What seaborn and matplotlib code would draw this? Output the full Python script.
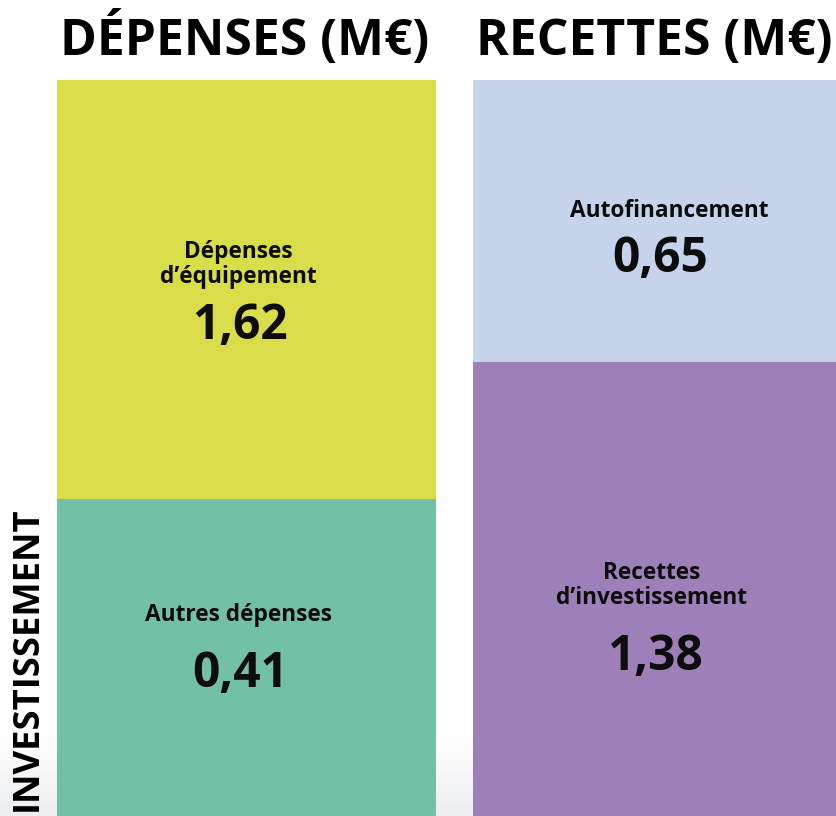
"""Budget d'investissement : dépenses vs recettes (M€), blocs empilés."""

import matplotlib
matplotlib.use("Agg")
import matplotlib.pyplot as plt
from matplotlib.colors import LinearSegmentedColormap
import numpy as np
import pandas as pd
import seaborn as sns

# données
colonnes = ["DÉPENSES (M€)", "RECETTES (M€)"]
postes_haut = ["Dépenses\nd’équipement", "Autofinancement"]
postes_bas = ["Autres dépenses", "Recettes\nd’investissement"]
valeurs_haut = [1.62, 0.65]
valeurs_bas = [0.41, 1.38]
# hauteur visible des blocs (le visuel n'est pas proportionnel aux montants)
hauteur_haut = [419, 282]
hauteur_bas = [317, 454]

couleurs_haut = ["#DADD4A", "#C5D4EA"]
couleurs_bas = ["#72C0A6", "#9E80B8"]

W, H = 837, 816
sns.set_theme(style="white")
plt.rcParams["font.family"] = ["Open Sans", "DejaVu Sans"]

fig = plt.figure(figsize=(W / 100, H / 100), dpi=100)
ax = fig.add_axes([0, 0, 1, 1])

df = pd.DataFrame({
    "col": colonnes,
    "total": np.add(hauteur_haut, hauteur_bas),
    "bas": hauteur_bas,
})

# léger dégradé gris en bas (blanc en haut -> gris en bas)
grad = np.linspace(0, 1, 100).reshape(-1, 1)
cmap_g = LinearSegmentedColormap.from_list("g", ["#FFFFFF", "#EDEEF1"])
ax.imshow(grad, extent=(-0.6, 1.45, 0, 80), aspect="auto", cmap=cmap_g, zorder=0)

sns.barplot(data=df, x="col", y="total", hue="col", palette=couleurs_haut,
            saturation=1, width=0.911, linewidth=0, legend=False, ax=ax, zorder=2)
sns.barplot(data=df, x="col", y="bas", hue="col", palette=couleurs_bas,
            saturation=1, width=0.911, linewidth=0, legend=False, ax=ax, zorder=3)

ax.set_xlim(-0.5925, 1.4195)
ax.set_ylim(0, H)
ax.axis("off")


def px(x, y):
    return x / W, 1 - y / H


# titres de colonnes
for titre, xc in zip(colonnes, [245, 654]):
    fig.text(*px(xc, 55), titre, ha="center", va="baseline",
             fontsize=35.8, fontweight="bold", color="black")

lbl = dict(ha="center", va="baseline", fontweight="bold", color="#0D0D0D")


def etiquette(texte, xc, bases):
    for ligne, yb in zip(texte.split("\n"), bases):
        fig.text(*px(xc, yb), ligne, fontsize=16.3, **lbl)


def montant(v, xc, yb):
    fig.text(*px(xc, yb), f"{v:.2f}".replace(".", ","), fontsize=34.5, **lbl)


etiquette(postes_haut[0], 238, [258, 283])
montant(valeurs_haut[0], 240, 339)
etiquette(postes_bas[0], 239, [621])
montant(valeurs_bas[0], 240, 687)
etiquette(postes_haut[1], 669, [217])
montant(valeurs_haut[1], 660, 272)
etiquette(postes_bas[1], 652, [579, 604])
montant(valeurs_bas[1], 655, 670)

# libellé de section vertical
fig.text(*px(28, 659), "INVESTISSEMENT", rotation=90, ha="center", va="center",
         fontsize=26.2, fontweight="bold", color="black")

fig.savefig("out.png", dpi=100)
